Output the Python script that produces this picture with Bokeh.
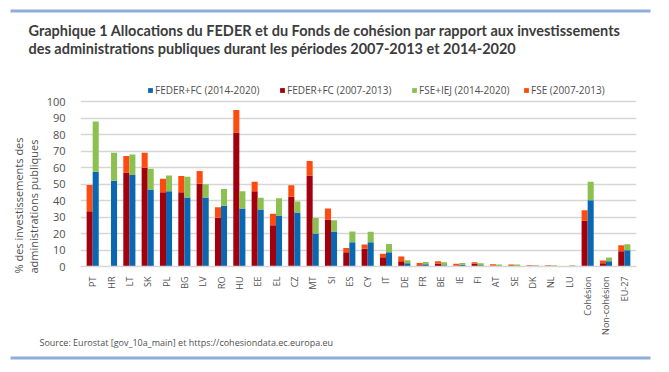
import math
from bokeh.plotting import figure
from bokeh.layouts import column
from bokeh.models import (FactorRange, Range1d, Legend, LegendItem, Title, Label, BoxAnnotation)
from bokeh.transform import dodge
from bokeh.embed import file_html
from bokeh.resources import INLINE

categories = ["PT", "HR", "LT", "SK", "PL", "BG", "LV", "RO", "HU", "EE",
              "EL", "CZ", "MT", "SI", "ES", "CY", "IT", "DE", "FR", "BE",
              "IE", "FI", "AT", "SE", "DK", "NL", "LU",
              "Cohésion", "Non-cohésion", "EU-27"]

feder_0713 = [33.6, 0.0, 57.0, 60.0, 45.0, 45.0, 50.3, 29.6, 81.3, 45.7,
              25.0, 42.3, 55.3, 28.6, 8.7, 10.7, 5.6, 3.2, 0.8, 1.6,
              0.6, 1.6, 0.4, 0.2, 0.1, 0.1, 0.05,
              27.8, 2.0, 9.3]
fse_0713 = [15.9, 0.0, 10.0, 9.0, 8.3, 10.0, 7.7, 6.4, 13.7, 5.8,
            7.0, 7.0, 8.7, 6.6, 2.6, 2.6, 2.2, 2.8, 1.4, 1.6,
            1.0, 1.0, 1.0, 1.0, 0.7, 0.7, 0.15,
            6.4, 1.6, 3.6]
feder_1420 = [57.5, 52.0, 55.5, 46.7, 45.7, 41.9, 41.9, 36.8, 35.2, 34.6,
              31.0, 32.8, 20.1, 21.3, 14.7, 14.7, 8.7, 2.0, 1.4, 0.8,
              1.0, 0.8, 0.2, 0.1, 0.1, 0.1, 0.1,
              40.2, 3.2, 9.9]
fse_1420 = [30.5, 17.0, 12.5, 12.7, 9.6, 12.6, 8.1, 10.2, 10.5, 7.2,
            10.4, 6.6, 9.3, 6.7, 6.6, 6.4, 5.0, 1.8, 1.4, 1.8,
            1.2, 1.2, 1.0, 1.1, 0.7, 0.7, 0.7,
            11.3, 2.2, 3.6]

labels = ["FEDER+FC (2014-2020)", "FEDER+FC (2007-2013)",
          "FSE+IEJ (2014-2020)", "FSE (2007-2013)"]
title_lines = ["Graphique 1 Allocations du FEDER et du Fonds de cohésion par rapport aux investissements",
               "des administrations publiques durant les périodes 2007-2013 et 2014-2020"]
y_title = "% des investissements des\nadministrations publiques"
source_text = "Source: Eurostat [gov_10a_main] et https://cohesiondata.ec.europa.eu"

BLUE = "#0a67b2"
DRED = "#a3000e"
GREEN = "#8cc152"
ORANGE = "#ff4b10"
GRID = "#d6d6d6"
TXT = "#505050"
RULE = "#8eaed8"
FONT = "Open Sans"
W = 669


def no_align(f):
    try:
        f.frame_align = False
    except Exception:
        pass


def mk_title(**kw):
    try:
        return Title(**kw)
    except ValueError:
        kw["standoff"] = 0
        return Title(**kw)


def canvas_fig(h):
    # figure whose frame is the whole canvas (pixel-like ranges)
    f = figure(width=W, height=h, x_range=Range1d(0, W), y_range=Range1d(0, h),
               x_axis_type=None, y_axis_type=None, output_backend="svg",
               toolbar_location=None, min_border=0)
    f.outline_line_color = None
    f.xgrid.visible = False
    f.ygrid.visible = False
    no_align(f)
    return f


# ---- header: top rule + two-line title ----
HH = 80
header = canvas_fig(HH)
header.add_layout(BoxAnnotation(left=10, right=650, bottom=HH - 12, top=HH - 9,
                                fill_color=RULE, fill_alpha=1, line_color=None))
for ty, txt in zip([50, 32], title_lines):
    header.add_layout(Label(x=28, y=ty, x_units="screen", y_units="screen", text=txt,
                            text_font="Lato", text_font_style="bold",
                            text_font_size="14.5px", text_color="#3c3c3c",
                            text_baseline="middle", text_align="left"))

# ---- main chart ----
src = dict(cat=categories, f0713=feder_0713, s0713=fse_0713,
           f1420=feder_1420, s1420=fse_1420)

MH = 257
p = figure(x_range=FactorRange(*categories, range_padding=0.011),
           y_range=Range1d(0, 112.9),
           width=W, height=MH, output_backend="svg",
           toolbar_location=None, min_border_left=80, min_border_right=33,
           min_border_top=0, min_border_bottom=70)
p.outline_line_color = None
no_align(p)

r_old = p.vbar_stack(["f0713", "s0713"], x=dodge("cat", -0.165, range=p.x_range),
                     width=0.33, source=src, color=[DRED, ORANGE], line_color=None)
r_new = p.vbar_stack(["f1420", "s1420"], x=dodge("cat", 0.165, range=p.x_range),
                     width=0.33, source=src, color=[BLUE, GREEN], line_color=None)

p.xaxis.major_label_orientation = math.pi / 2
p.xaxis.major_tick_line_color = None
p.xaxis.minor_tick_line_color = None
p.xaxis.axis_line_color = GRID
p.xaxis.axis_line_width = 1.5
p.xaxis.major_label_text_font = FONT
p.xaxis.major_label_text_font_size = "9px"
p.xaxis.major_label_text_color = TXT
p.xaxis.major_label_standoff = 4

p.yaxis.ticker = list(range(0, 101, 10))
p.yaxis.axis_line_color = None
p.yaxis.major_tick_line_color = None
p.yaxis.minor_tick_line_color = None
p.yaxis.major_label_text_font = FONT
p.yaxis.major_label_text_font_size = "11px"
p.yaxis.major_label_text_color = TXT
p.yaxis.major_label_standoff = 9

p.xgrid.grid_line_color = None
p.ygrid.grid_line_color = GRID
p.ygrid.grid_line_width = 1.5

legend_x = [67, 199, 331, 443]
renders = [r_new[0], r_old[0], r_new[1], r_old[1]]
for lx, lab, rr in zip(legend_x, labels, renders):
    lg = Legend(items=[LegendItem(label=lab, renderers=[rr])],
                location=(lx, 169), orientation="horizontal",
                padding=0, margin=0, border_line_color=None,
                background_fill_alpha=0, glyph_width=6, glyph_height=6,
                label_height=12, label_standoff=2,
                label_text_font=FONT, label_text_font_size="10px",
                label_text_color=TXT)
    p.add_layout(lg, "center")

p.add_layout(mk_title(text=y_title, align="left", offset=-7, standoff=5,
                      text_font=FONT, text_font_style="normal",
                      text_font_size="11px", text_color=TXT), "left")

# ---- footer: source + bottom rule ----
FH = 35
footer = canvas_fig(FH)
footer.add_layout(Label(x=39, y=30, x_units="screen", y_units="screen", text=source_text,
                        text_font=FONT, text_font_size="9px", text_color=TXT,
                        text_baseline="middle", text_align="left"))
footer.add_layout(BoxAnnotation(left=10, right=650, bottom=13, top=16,
                                fill_color=RULE, fill_alpha=1, line_color=None))

layout = column(header, p, footer, spacing=0)
open("out.html", "w").write(file_html(layout, INLINE))
